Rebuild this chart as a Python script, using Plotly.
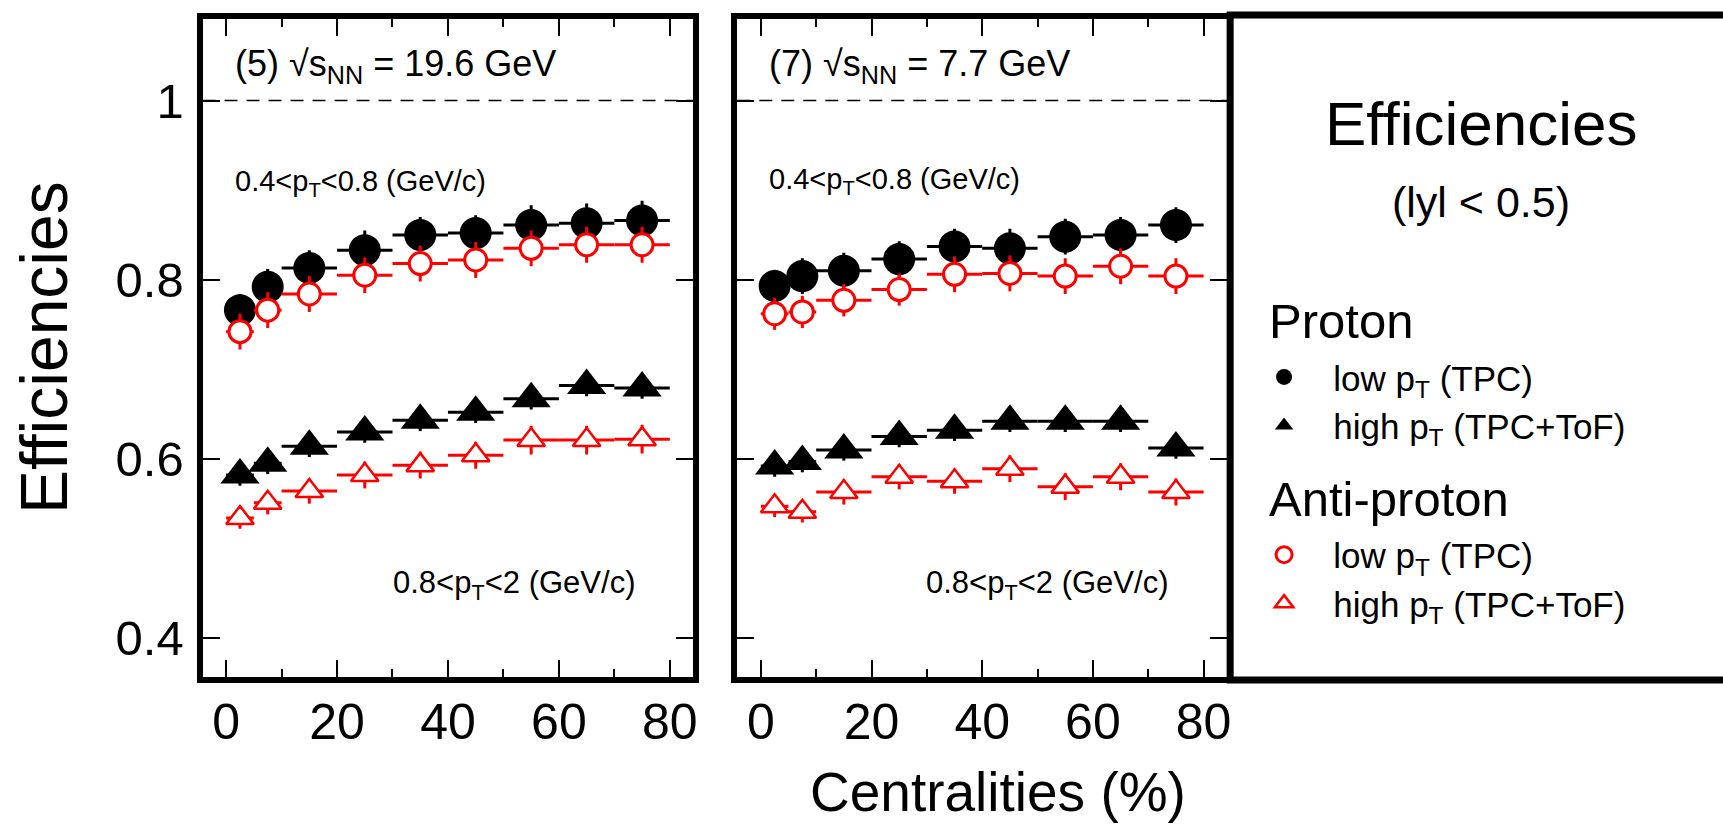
import plotly.graph_objects as go

W, H = 1723, 826
FONT = "Liberation Sans, Arial, Helvetica, sans-serif"

# ---------------- data ----------------
centrality = [2.5, 7.5, 15, 25, 35, 45, 55, 65, 75]          # bin centres (%)
bin_halfwidth = [2.5, 2.5, 5, 5, 5, 5, 5, 5, 5]               # half bin widths

# sqrt(s_NN) = 19.6 GeV
p196_low = [0.766, 0.792, 0.813, 0.833, 0.850, 0.852, 0.861, 0.863, 0.866]
p196_low_err = [0.018, 0.020, 0.020, 0.022, 0.020, 0.020, 0.022, 0.022, 0.022]
pbar196_low = [0.742, 0.766, 0.784, 0.805, 0.818, 0.822, 0.835, 0.839, 0.839]
pbar196_low_err = [0.020, 0.020, 0.020, 0.020, 0.020, 0.020, 0.020, 0.020, 0.020]
p196_high = [0.582, 0.595, 0.614, 0.630, 0.643, 0.652, 0.667, 0.682, 0.679]
p196_high_err = [0.012, 0.012, 0.012, 0.012, 0.012, 0.012, 0.012, 0.012, 0.012]
pbar196_high = [0.534, 0.551, 0.564, 0.582, 0.593, 0.604, 0.621, 0.621, 0.622]
pbar196_high_err = [0.012, 0.013, 0.014, 0.015, 0.015, 0.015, 0.016, 0.016, 0.016]

# sqrt(s_NN) = 7.7 GeV
p77_low = [0.793, 0.804, 0.810, 0.823, 0.837, 0.835, 0.848, 0.850, 0.861]
p77_low_err = [0.018, 0.020, 0.020, 0.020, 0.020, 0.022, 0.020, 0.020, 0.020]
pbar77_low = [0.762, 0.764, 0.777, 0.789, 0.806, 0.807, 0.804, 0.815, 0.804]
pbar77_low_err = [0.018, 0.018, 0.018, 0.018, 0.020, 0.020, 0.020, 0.020, 0.020]
p77_high = [0.592, 0.597, 0.610, 0.625, 0.632, 0.642, 0.642, 0.642, 0.612]
p77_high_err = [0.012, 0.012, 0.012, 0.012, 0.012, 0.012, 0.012, 0.012, 0.012]
pbar77_high = [0.547, 0.541, 0.563, 0.580, 0.575, 0.589, 0.569, 0.580, 0.563]
pbar77_high_err = [0.012, 0.012, 0.014, 0.014, 0.014, 0.015, 0.015, 0.015, 0.015]

x_range = [-4.25, 84.25]
y_range = [0.3565, 1.091]
x_dtick, x_minor_dtick = 20, 10
y_dtick = 0.2
reference_eff = 1.0

panels = [
    dict(xa="x", ya="y", title="(5) √s<sub>NN</sub> = 19.6 GeV",
         series=[(p196_low, p196_low_err, pbar196_low, pbar196_low_err),
                 (p196_high, p196_high_err, pbar196_high, pbar196_high_err)]),
    dict(xa="x2", ya="y2", title="(7) √s<sub>NN</sub> = 7.7 GeV",
         series=[(p77_low, p77_low_err, pbar77_low, pbar77_low_err),
                 (p77_high, p77_high_err, pbar77_high, pbar77_high_err)]),
]

low_label = "\u00a0\u00a0\u00a0low p<sub>T</sub> (TPC)"
high_label = "\u00a0\u00a0\u00a0high p<sub>T</sub> (TPC+ToF)"

fig = go.Figure()


def add(xa, ya, y, yerr, symbol, color, fill, size, lw, name, group, gtitle, show):
    fig.add_trace(go.Scatter(
        x=centrality, y=y, xaxis=xa, yaxis=ya, mode="markers", name=name,
        legendgroup=group, showlegend=show,
        legendgrouptitle=dict(text=gtitle, font=dict(size=49, family=FONT, color="black")) if show else None,
        marker=dict(symbol=symbol, color=fill, size=size, line=dict(color=color, width=lw)),
        error_x=dict(type="data", array=bin_halfwidth, color=color, thickness=3, width=0),
        error_y=dict(type="data", array=yerr, color=color, thickness=3, width=0),
    ))


for i, pn in enumerate(panels):
    show = i == 0
    (pl, ple, al, ale), (ph, phe, ah, ahe) = pn["series"]
    add(pn["xa"], pn["ya"], pl, ple, "circle", "black", "black", 32, 0, low_label, "proton", "Proton", show)
    add(pn["xa"], pn["ya"], ph, phe, "triangle-up", "black", "black", 34, 0, high_label, "proton", "Proton", show)
    add(pn["xa"], pn["ya"], al, ale, "circle", "red", "white", 22, 3, low_label, "antiproton", "Anti-proton", show)
    add(pn["xa"], pn["ya"], ah, ahe, "triangle-up", "red", "white", 24, 2.5, high_label, "antiproton", "Anti-proton", show)

axis_common = dict(showline=True, linewidth=6, linecolor="black", mirror="allticks",
                   ticks="inside", ticklen=17, tickwidth=1.5, tickcolor="black",
                   showgrid=False, zeroline=False)
xaxis_common = dict(axis_common, range=x_range, tickmode="linear", tick0=0, dtick=x_dtick,
                    minor=dict(tick0=0, dtick=x_minor_dtick, ticks="inside", ticklen=8,
                               tickwidth=1.5, tickcolor="black", showgrid=False),
                    tickfont=dict(size=50, family=FONT, color="black"), ticklabelstandoff=-4)
yaxis_common = dict(axis_common, range=y_range, tickmode="linear", tick0=0, dtick=y_dtick,
                    tickfont=dict(size=49, family=FONT, color="black"), ticklabelstandoff=3)

ydom = [1 - 677 / H, 1 - 19 / H]
fig.update_layout(
    width=W, height=H, margin=dict(l=0, r=0, t=0, b=0),
    paper_bgcolor="white", plot_bgcolor="white",
    font=dict(family=FONT, color="black"),
    xaxis=dict(xaxis_common, domain=[203 / W, 695 / W], anchor="y"),
    yaxis=dict(yaxis_common, domain=ydom, anchor="x"),
    xaxis2=dict(xaxis_common, domain=[739 / W, 1230 / W], anchor="y2"),
    yaxis2=dict(yaxis_common, domain=ydom, anchor="x2", showticklabels=False),
    legend=dict(x=1267 / W, y=1 - 281 / H, xanchor="left", yanchor="top",
                font=dict(size=35, family=FONT, color="black"),
                grouptitlefont=dict(size=49, family=FONT, color="black"),
                tracegroupgap=14, itemwidth=30, bgcolor="rgba(0,0,0,0)", borderwidth=0,
                traceorder="grouped"),
    showlegend=True,
)

shapes = []
for xr, yr in [("x", "y"), ("x2", "y2")]:
    shapes.append(dict(type="line", xref=f"{xr} domain", yref=yr, x0=0, x1=1,
                       y0=reference_eff, y1=reference_eff,
                       line=dict(color="black", width=1.5, dash="13px,9px")))
# legend frame
shapes.append(dict(type="rect", xref="paper", yref="paper", x0=1233 / W, x1=1.02,
                   y0=1 - 680 / H, y1=1 - 15 / H, line=dict(color="black", width=7)))
fig.update_layout(shapes=shapes)


def ann(text, px, py, size, xanchor="left", angle=0):
    return dict(text=text, xref="paper", yref="paper", x=px / W, y=1 - py / H,
                xanchor=xanchor, yanchor="middle", showarrow=False, textangle=angle,
                font=dict(size=size, family=FONT, color="black"))


annotations = [
    ann(panels[0]["title"], 234, 66, 36),
    ann(panels[1]["title"], 769, 66, 36),
    ann("0.4&lt;p<sub>T</sub>&lt;0.8 (GeV/c)", 234, 183, 29),
    ann("0.4&lt;p<sub>T</sub>&lt;0.8 (GeV/c)", 769, 181, 29),
    ann("0.8&lt;p<sub>T</sub>&lt;2 (GeV/c)", 392, 585, 31),
    ann("0.8&lt;p<sub>T</sub>&lt;2 (GeV/c)", 926, 585, 31),
    ann("Efficiencies", 1484, 123, 62, xanchor="center"),
    ann("(lyl &lt; 0.5)", 1484, 202, 43, xanchor="center"),
    ann("Efficiencies", 44, 347, 66, xanchor="center", angle=-90),
    ann("Centralities (%)", 1000, 792, 55, xanchor="center"),
]
fig.update_layout(annotations=annotations)

fig.write_html("out.html")
